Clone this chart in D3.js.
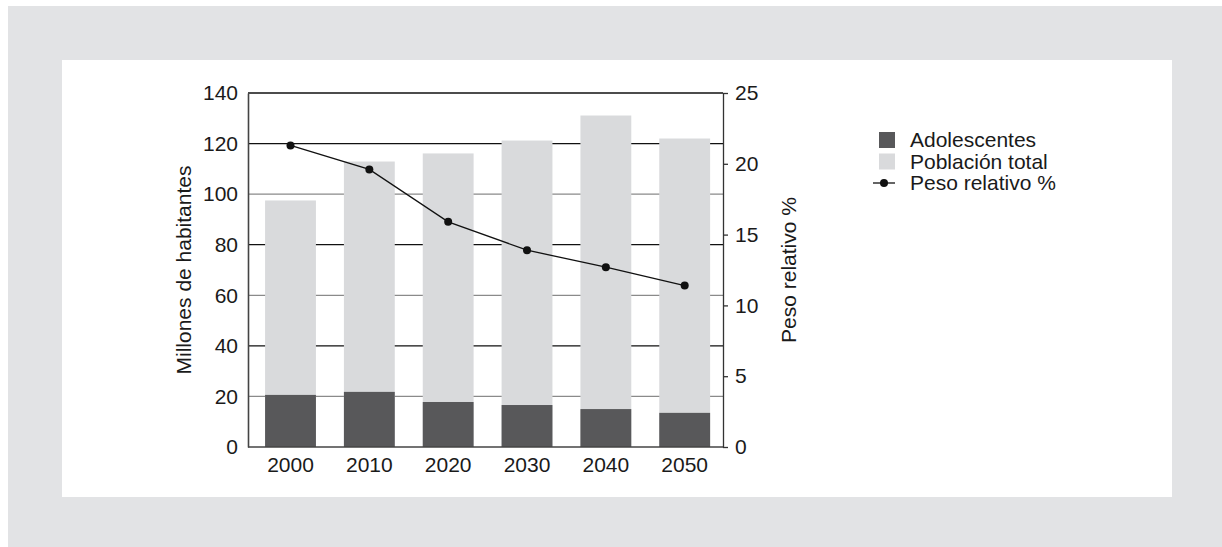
<!DOCTYPE html>
<html>
<head>
<meta charset="utf-8">
<script src="https://cdn.jsdelivr.net/npm/d3@7"></script>
<style>
  body { margin: 0; background: #fff; }
  svg { display: block; font-family: "Liberation Sans", Arial, sans-serif; }
</style>
</head>
<body>
<div id="chart"></div>
<script>
const years = ["2000", "2010", "2020", "2030", "2040", "2050"];
const totalPop = [97.5, 112.9, 116.1, 121.2, 131.1, 122.0];
const adolescents = [20.6, 21.8, 17.8, 16.6, 15.0, 13.5];
const relWeight = [21.3, 19.6, 15.9, 13.9, 12.7, 11.4];
const leftTicks = [0, 20, 40, 60, 80, 100, 120, 140];
const rightTicks = [0, 5, 10, 15, 20, 25];
const legendLabels = ["Adolescentes", "Población total", "Peso relativo %"];

const width = 1222, height = 547;
const plot = { left: 248, right: 723, top: 93, bottom: 447 };
const fs = "21px";

const svg = d3.select("#chart").append("svg")
  .attr("width", width)
  .attr("height", height);

// background frames
svg.append("rect").attr("x", 8).attr("y", 6).attr("width", width - 8).attr("height", height - 6).attr("fill", "#e2e3e5");
svg.append("rect").attr("x", 62).attr("y", 60).attr("width", 1110).attr("height", 437).attr("fill", "#fff");

const x = d3.scaleBand()
  .domain(years)
  .range([plot.left, plot.right])
  .paddingInner(0.355)
  .paddingOuter(0.19)
  .align(0.57);

const y = d3.scaleLinear().domain([0, 140]).range([plot.bottom, plot.top]);
const y2 = d3.scaleLinear().domain([0, 25]).range([plot.bottom, plot.top]);

// gridlines: 20/60/100 gray, the rest black
svg.append("g").selectAll("line")
  .data(leftTicks.filter(d => d > 0))
  .enter().append("line")
  .attr("x1", plot.left).attr("x2", plot.right)
  .attr("y1", d => y(d)).attr("y2", d => y(d))
  .attr("stroke", d => (d % 40 === 20 && d < 140) ? "#8a8a8a" : "#111")
  .attr("stroke-width", 1.3);

// total population bars
svg.append("g").selectAll("rect")
  .data(totalPop)
  .enter().append("rect")
  .attr("x", (d, i) => x(years[i]))
  .attr("width", x.bandwidth())
  .attr("y", d => y(d))
  .attr("height", d => y(0) - y(d))
  .attr("fill", "#d9dadc");

// adolescents bars
svg.append("g").selectAll("rect")
  .data(adolescents)
  .enter().append("rect")
  .attr("x", (d, i) => x(years[i]))
  .attr("width", x.bandwidth())
  .attr("y", d => y(d))
  .attr("height", d => y(0) - y(d))
  .attr("fill", "#58585a");

// left axis
const leftAxis = svg.append("g")
  .attr("transform", `translate(${plot.left},0)`)
  .call(d3.axisLeft(y).tickValues(leftTicks).tickSize(0).tickPadding(10));
leftAxis.select(".domain").attr("stroke", "#444").attr("stroke-width", 1.6);
leftAxis.selectAll("text").style("font-size", fs).attr("fill", "#1a1a1a");

// bottom baseline
svg.append("line")
  .attr("x1", plot.left).attr("x2", plot.right)
  .attr("y1", plot.bottom).attr("y2", plot.bottom)
  .attr("stroke", "#444").attr("stroke-width", 1.6);

// x axis labels
const xAxis = svg.append("g")
  .attr("transform", `translate(0,${plot.bottom})`)
  .call(d3.axisBottom(x).tickSize(0).tickPadding(10));
xAxis.select(".domain").remove();
xAxis.selectAll("text").style("font-size", fs).attr("fill", "#1a1a1a");

// right axis
const rightAxis = svg.append("g")
  .attr("transform", `translate(${plot.right},0)`)
  .call(d3.axisRight(y2).tickValues(rightTicks).tickSize(5).tickSizeOuter(0).tickPadding(7));
rightAxis.select(".domain").attr("stroke", "#333").attr("stroke-width", 1.3);
rightAxis.selectAll(".tick line").attr("stroke", "#333").attr("stroke-width", 1.3);
rightAxis.selectAll("text").style("font-size", fs).attr("fill", "#1a1a1a");

// line series
const line = d3.line()
  .x((d, i) => x(years[i]) + x.bandwidth() / 2)
  .y(d => y2(d));

svg.append("path")
  .datum(relWeight)
  .attr("d", line)
  .attr("fill", "none")
  .attr("stroke", "#111")
  .attr("stroke-width", 1.3);

svg.append("g").selectAll("circle")
  .data(relWeight)
  .enter().append("circle")
  .attr("cx", (d, i) => x(years[i]) + x.bandwidth() / 2)
  .attr("cy", d => y2(d))
  .attr("r", 4)
  .attr("fill", "#111");

// axis titles
svg.append("text")
  .attr("transform", `translate(191,${(plot.top + plot.bottom) / 2}) rotate(-90)`)
  .attr("text-anchor", "middle")
  .style("font-size", fs)
  .attr("fill", "#1a1a1a")
  .text("Millones de habitantes");

svg.append("text")
  .attr("transform", `translate(796,${(plot.top + plot.bottom) / 2}) rotate(-90)`)
  .attr("text-anchor", "middle")
  .style("font-size", fs)
  .attr("fill", "#1a1a1a")
  .text("Peso relativo %");

// legend
const legend = svg.selectAll(".legend")
  .data(legendLabels)
  .enter().append("g")
  .attr("class", "legend")
  .attr("transform", (d, i) => `translate(879,${140 + i * 21.5})`);

legend.filter((d, i) => i < 2).append("rect")
  .attr("x", 0).attr("y", -8)
  .attr("width", 16).attr("height", 16)
  .attr("fill", (d, i) => i === 0 ? "#58585a" : "#d9dadc");

const lineItem = legend.filter((d, i) => i === 2);
lineItem.append("line")
  .attr("x1", -6).attr("x2", 16).attr("y1", 0).attr("y2", 0)
  .attr("stroke", "#111").attr("stroke-width", 1.3);
lineItem.append("circle").attr("cx", 5).attr("cy", 0).attr("r", 4).attr("fill", "#111");

legend.append("text")
  .attr("x", 31)
  .attr("dy", "0.35em")
  .style("font-size", fs)
  .attr("fill", "#1a1a1a")
  .text(d => d);
</script>
</body>
</html>
